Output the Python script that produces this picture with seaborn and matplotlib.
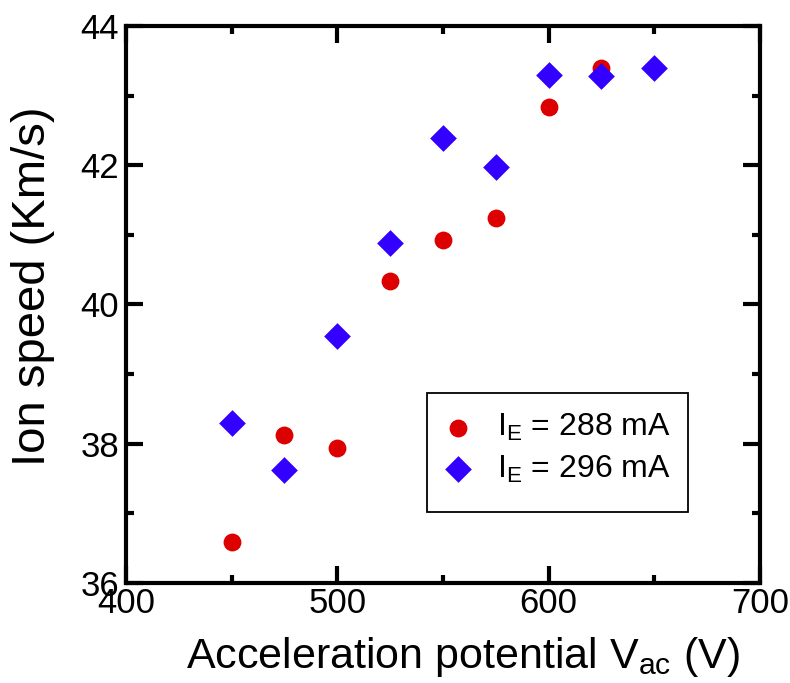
import matplotlib
matplotlib.use("Agg")
import matplotlib.pyplot as plt
import seaborn as sns
import pandas as pd
from matplotlib.ticker import MultipleLocator
from matplotlib.patches import Rectangle

sns.set_theme(style="ticks")
plt.rcParams['font.family'] = ['Liberation Sans', 'DejaVu Sans']
plt.rcParams['mathtext.fontset'] = 'custom'
plt.rcParams['mathtext.rm'] = 'Liberation Sans'
plt.rcParams['mathtext.it'] = 'Liberation Sans:italic'
plt.rcParams['text.color'] = 'black'
plt.rcParams['axes.labelcolor'] = 'black'

# Data
v_288 = [450, 475, 500, 525, 550, 575, 600, 625]
speed_288 = [36.59, 38.12, 37.94, 40.34, 40.93, 41.24, 42.84, 43.40]
v_296 = [450, 475, 500, 525, 550, 575, 600, 625, 650]
speed_296 = [38.30, 37.62, 39.55, 40.88, 42.39, 41.97, 43.30, 43.28, 43.40]
labels = [r'I$_\mathrm{E}$ = 288 mA', r'I$_\mathrm{E}$ = 296 mA']

df = pd.concat([
    pd.DataFrame({'V': v_288, 'speed': speed_288, 'series': labels[0]}),
    pd.DataFrame({'V': v_296, 'speed': speed_296, 'series': labels[1]}),
], ignore_index=True)

fig = plt.figure(figsize=(7.9, 6.83), dpi=100)
ax = fig.add_axes([0.1595, 0.1464, 0.8025, 0.8156])

palette = {labels[0]: '#DD0000', labels[1]: '#3300FF'}
markers = {labels[0]: 'o', labels[1]: 'D'}
sizes = {labels[0]: 165, labels[1]: 185}
for lab in labels:
    sub = df[df['series'] == lab]
    sns.scatterplot(data=sub, x='V', y='speed', color=palette[lab], marker=markers[lab],
                    s=sizes[lab], linewidth=0, ax=ax, label=lab, zorder=3)

ax.set_xlim(400, 700)
ax.set_ylim(36, 44)
ax.xaxis.set_major_locator(MultipleLocator(100))
ax.xaxis.set_minor_locator(MultipleLocator(50))
ax.yaxis.set_major_locator(MultipleLocator(2))
ax.yaxis.set_minor_locator(MultipleLocator(1))
ax.tick_params(which='both', direction='in', top=True, right=True, width=3,
               labelsize=25, color='black', labelcolor='black')
ax.tick_params(axis='x', which='both', pad=3)
ax.tick_params(axis='y', which='both', pad=5)
ax.tick_params(which='major', length=12)
ax.tick_params(which='minor', length=6)
for sp in ax.spines.values():
    sp.set_linewidth(3)
    sp.set_color('black')

ax.set_xlabel(r'Acceleration potential V$_\mathrm{ac}$ (V)', fontsize=31, color='black')
ax.set_ylabel('Ion speed (Km/s)', fontsize=34, color='black')
ax.xaxis.set_label_coords(0.5315, -0.093)
ax.yaxis.set_label_coords(-0.112, 0.533)

leg = ax.legend(loc='upper left', bbox_to_anchor=(0.50, 0.307), fontsize=23,
                frameon=False, borderpad=0, labelspacing=0.33, handlelength=0.95,
                handletextpad=0.75, borderaxespad=0, markerscale=1.0)
for t in leg.get_texts():
    t.set_color('black')
ax.add_patch(Rectangle((0.4748, 0.1275), 0.4116, 0.2136, transform=ax.transAxes,
                       fill=False, edgecolor='black', linewidth=1.3, zorder=4))

fig.savefig('out.png', dpi=100)
